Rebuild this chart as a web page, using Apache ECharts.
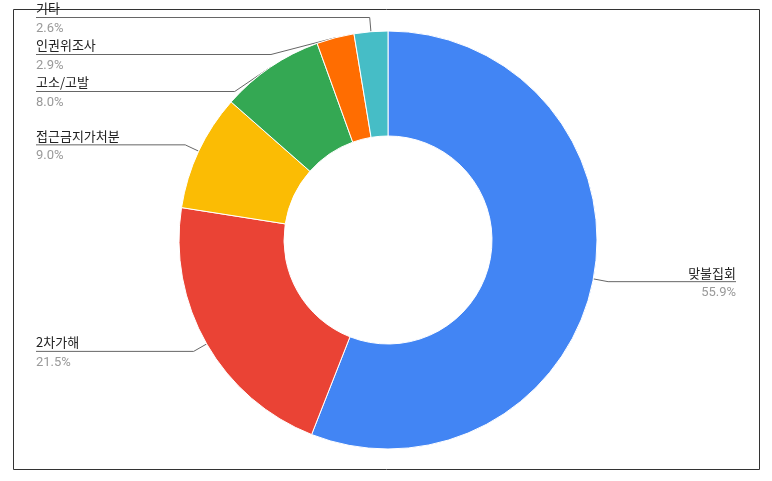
<!DOCTYPE html>
<html><head><meta charset="utf-8">
<script src="https://cdn.jsdelivr.net/npm/echarts@6/dist/echarts.min.js"></script>
<style>html,body{margin:0;padding:0;background:#fff}#c{width:772px;height:481px}</style>
</head><body><div id="c"></div>
<script>
const categories = ['맞불집회','2차가해','접근금지가처분','고소/고발','인권위조사','기타'];
const values = [55.9,21.5,9.0,8.0,2.9,2.6];
const colors = ['#4285F4','#EA4335','#FBBC04','#34A853','#FF6D01','#46BDC6'];
const chart = echarts.init(document.getElementById('c'));
chart.setOption({
  animation:false,
  color: colors,
  graphic:[{type:'rect',shape:{x:13.5,y:9.5,width:746,height:460},style:{fill:'none',stroke:'#333',lineWidth:1}}],
  series:[{
    type:'pie',
    center:[388,240],
    radius:[104,209],
    startAngle:90,
    clockwise:true,
    avoidLabelOverlap:true,
    data: categories.map((n,i)=>({name:n,value:values[i]})),
    itemStyle:{borderColor:'#fff',borderWidth:1},
    label:{
      alignTo:'edge',
      edgeDistance:36,
      minMargin:4,
      formatter: p => '{name|'+p.name+'}\n{pct|'+p.value.toFixed(1)+'%}',
      rich:{
        name:{fontSize:13,color:'#222',lineHeight:22,fontFamily:'Noto Sans CJK KR'},
        pct:{fontSize:13,color:'#999',lineHeight:18,fontFamily:'Roboto'}
      }
    },
    labelLine:{length:15,length2:0,lineStyle:{color:'#666',width:1}},
    labelLayout: function(params){
      const isLeft = params.labelRect.x < 388;
      const pts = params.labelLinePoints;
      if(pts){ pts[2][0] = isLeft ? params.labelRect.x : params.labelRect.x + params.labelRect.width; }
      return {labelLinePoints: pts};
    }
  }]
});
</script></body></html>
